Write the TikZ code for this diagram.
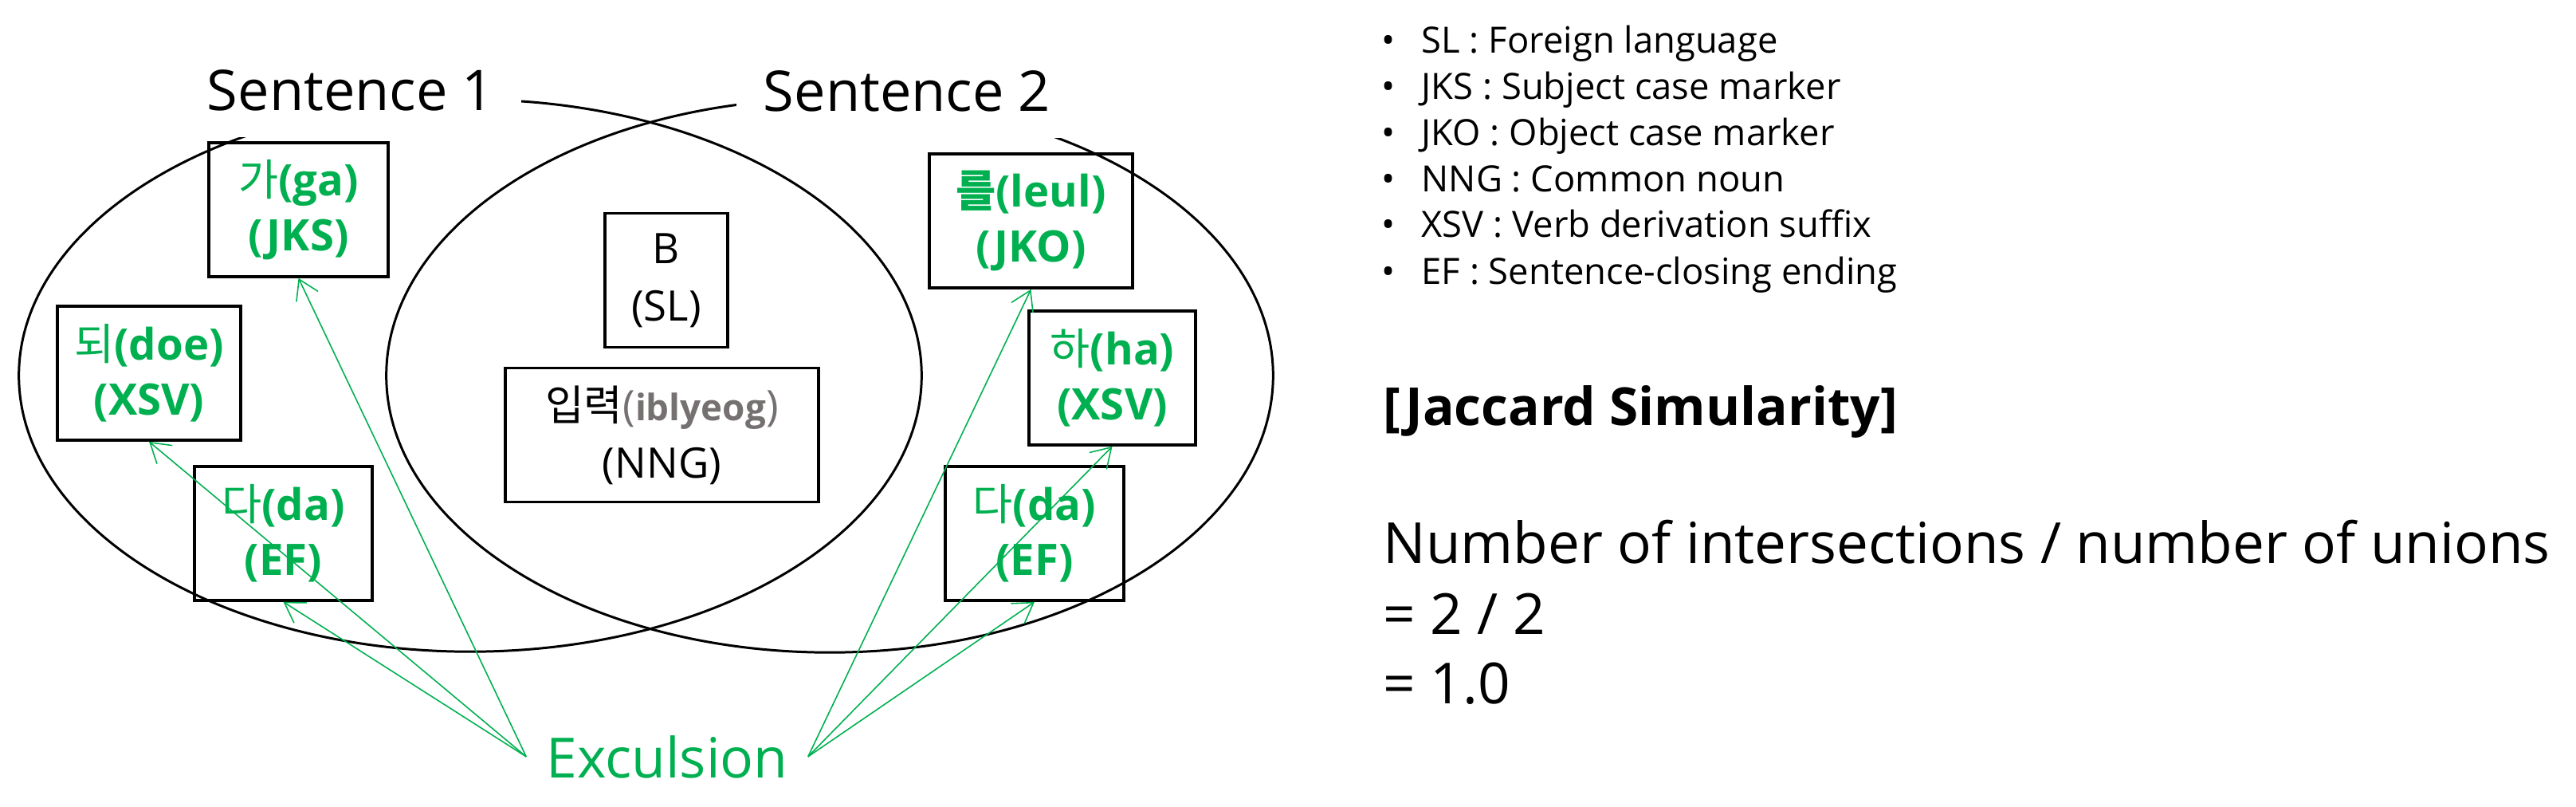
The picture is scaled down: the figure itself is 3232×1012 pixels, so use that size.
\documentclass[tikz,border=0pt]{standalone}
\usepackage{fontspec}
\setmainfont{Open Sans}
\newfontfamily\kr{Noto Sans CJK KR}
\usetikzlibrary{arrows.meta}
\definecolor{exgreen}{HTML}{00B050}
\definecolor{romgray}{HTML}{767171}
\tikzset{
  sentence/.style={fill=white, minimum width=4.28cm, minimum height=1.18cm, font=\fontsize{20}{24}\selectfont},
  tagbox/.style={draw, line width=1pt, minimum height=1.68cm, align=center, inner sep=0pt, text=exgreen, font=\bfseries\fontsize{15.5}{19.5}\selectfont},
  wordbox/.style={draw, line width=1pt, minimum height=1.68cm, align=center, inner sep=0pt, font=\fontsize{15}{20.5}\selectfont},
  excl/.style={exgreen, line width=0.45pt, -{Straight Barb[length=2.4mm,width=3mm]}},
  legend/.style={anchor=base west, inner sep=0pt, font=\fontsize{12.9}{15}\selectfont},
  formula/.style={anchor=base west, inner sep=0pt, font=\fontsize{20.2}{24}\selectfont}
}
\begin{document}
\begin{tikzpicture}[x=0.01cm,y=-0.01cm]
    \useasboundingbox (0,0) rectangle (3232,1012);
    \draw[line width=0.85pt] (590,471) ellipse [x radius=5.66cm, y radius=3.46cm];
    \draw[line width=0.85pt] (1041,471) ellipse [x radius=5.56cm, y radius=3.47cm];
    \node[sentence] (s1) at (440,113) {Sentence 1};
    \node[sentence] (s2) at (1138,114) {Sentence 2};
    % sentence 1 only
    \node[tagbox, minimum width=2.25cm] (ga) at (374.5,263) {{\kr\mdseries 가}(ga)\\(JKS)};
    \node[tagbox, minimum width=2.30cm] (doe) at (187,468) {{\kr\mdseries 되}(doe)\\(XSV)};
    \node[tagbox, minimum width=2.23cm] (da1) at (355.5,669) {{\kr\mdseries 다}(da)\\(EF)};
    % both sentences
    \node[wordbox, minimum width=1.54cm] (b) at (836,351.5) {B\\(SL)};
    \node[wordbox, minimum width=3.93cm] (ib) at (830.5,545.5) {{\kr 입력}\textcolor{romgray}{(\textbf{\fontsize{13}{15}\selectfont iblyeog})}\\(NNG)};
    % sentence 2 only
    \node[tagbox, minimum width=2.55cm] (leul) at (1293.5,277) {{\kr 를}(leul)\\(JKO)};
    \node[tagbox, minimum width=2.09cm] (ha) at (1395.5,474) {{\kr\mdseries 하}(ha)\\(XSV)};
    \node[tagbox, minimum width=2.24cm] (da2) at (1298,669) {{\kr\mdseries 다}(da)\\(EF)};
    \node[text=exgreen, inner sep=7pt, anchor=base, font=\fontsize{19.8}{24}\selectfont] (ex) at (837,975) {Exculsion};
    \draw[excl] (ex.west) -- (ga.south);
    \draw[excl] (ex.west) -- (doe.south);
    \draw[excl] (ex.west) -- (da1.south);
    \draw[excl] (ex.east) -- (leul.south);
    \draw[excl] (ex.east) -- (ha.south);
    \draw[excl] (ex.east) -- (da2.south);
    % tags
    \node[legend] (l1) at (1733,66) {\makebox[0.5cm][l]{•}SL : Foreign language};
    \node[legend] (l2) at (1733,124) {\makebox[0.5cm][l]{•}JKS : Subject case marker};
    \node[legend] (l3) at (1733,182) {\makebox[0.5cm][l]{•}JKO : Object case marker};
    \node[legend] (l4) at (1733,240) {\makebox[0.5cm][l]{•}NNG : Common noun};
    \node[legend] (l5) at (1733,297) {\makebox[0.5cm][l]{•}XSV : Verb derivation suffix};
    \node[legend] (l6) at (1733,356) {\makebox[0.5cm][l]{•}EF : Sentence-closing ending};
    \node[formula, font=\bfseries\fontsize{18.7}{24}\selectfont] (jac) at (1735,533) {[Jaccard Simularity]};
    \node[formula] (f1) at (1735,706) {Number of intersections / number of unions};
    \node[formula] (f2) at (1735,795) {= 2 / 2};
    \node[formula] (f3) at (1735,882) {= 1.0};
\end{tikzpicture}
\end{document}
